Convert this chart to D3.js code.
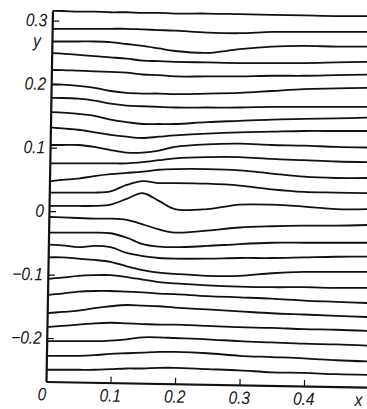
<!DOCTYPE html>
<html>
<head>
<meta charset="utf-8">
<script src="https://cdn.jsdelivr.net/npm/d3@7"></script>
<style>
  html, body { margin: 0; padding: 0; background: #fff; }
  svg { display: block; }
  .lbl { font-family: "Liberation Sans", Arial, sans-serif; font-style: italic; font-size: 18px; fill: #151515; }
</style>
</head>
<body>
<div id="chart"></div>
<script>
// streamline sample positions along x
const xs = [0, 0.025, 0.05, 0.075, 0.1, 0.125, 0.15, 0.175, 0.2, 0.25, 0.3, 0.35, 0.4, 0.45, 0.5];

// y of each streamline at xs (top to bottom)
const line01 = [0.315, 0.315, 0.314, 0.314, 0.313, 0.313, 0.312, 0.312, 0.311, 0.311, 0.310, 0.309, 0.308, 0.307, 0.307];
const line02 = [0.287, 0.287, 0.287, 0.287, 0.287, 0.287, 0.286, 0.285, 0.284, 0.281, 0.280, 0.282, 0.282, 0.282, 0.282];
const line03 = [0.267, 0.267, 0.267, 0.267, 0.266, 0.263, 0.260, 0.256, 0.252, 0.249, 0.255, 0.259, 0.260, 0.259, 0.259];
const line04 = [0.249, 0.248, 0.246, 0.244, 0.242, 0.240, 0.237, 0.236, 0.235, 0.234, 0.233, 0.233, 0.233, 0.234, 0.235];
const line05 = [0.222, 0.222, 0.221, 0.220, 0.219, 0.218, 0.215, 0.214, 0.212, 0.212, 0.212, 0.213, 0.213, 0.214, 0.215];
const line06 = [0.200, 0.199, 0.197, 0.194, 0.189, 0.186, 0.185, 0.185, 0.184, 0.185, 0.186, 0.189, 0.192, 0.193, 0.194];
const line07 = [0.178, 0.178, 0.177, 0.174, 0.169, 0.166, 0.165, 0.164, 0.163, 0.163, 0.163, 0.164, 0.164, 0.164, 0.164];
const line08 = [0.156, 0.155, 0.153, 0.150, 0.144, 0.140, 0.137, 0.137, 0.137, 0.140, 0.142, 0.144, 0.145, 0.146, 0.147];
const line09 = [0.133, 0.130, 0.128, 0.124, 0.120, 0.117, 0.115, 0.117, 0.119, 0.122, 0.124, 0.125, 0.126, 0.126, 0.126];
const line10 = [0.104, 0.104, 0.104, 0.101, 0.096, 0.092, 0.092, 0.095, 0.101, 0.105, 0.106, 0.104, 0.103, 0.101, 0.100];
const line11 = [0.075, 0.075, 0.075, 0.075, 0.075, 0.075, 0.077, 0.080, 0.083, 0.085, 0.085, 0.082, 0.080, 0.078, 0.077];
const line12 = [0.046, 0.049, 0.051, 0.055, 0.058, 0.060, 0.062, 0.065, 0.066, 0.066, 0.064, 0.059, 0.054, 0.052, 0.052];
const line13 = [0.029, 0.029, 0.029, 0.029, 0.031, 0.041, 0.047, 0.044, 0.044, 0.043, 0.040, 0.034, 0.030, 0.029, 0.028];
const line14 = [0.008, 0.008, 0.008, 0.008, 0.010, 0.019, 0.028, 0.016, 0.003, 0.003, 0.010, 0.010, 0.007, 0.003, 0.003];
const line15 = [-0.009, -0.010, -0.011, -0.012, -0.012, -0.014, -0.021, -0.029, -0.034, -0.031, -0.026, -0.024, -0.023, -0.023, -0.022];
const line16 = [-0.034, -0.034, -0.034, -0.034, -0.035, -0.042, -0.052, -0.056, -0.057, -0.055, -0.052, -0.050, -0.050, -0.050, -0.050];
const line17 = [-0.053, -0.054, -0.057, -0.055, -0.057, -0.066, -0.071, -0.074, -0.075, -0.075, -0.074, -0.074, -0.073, -0.072, -0.072];
const line18 = [-0.073, -0.073, -0.075, -0.077, -0.080, -0.087, -0.093, -0.097, -0.099, -0.102, -0.102, -0.098, -0.096, -0.096, -0.096];
const line19 = [-0.107, -0.105, -0.102, -0.101, -0.101, -0.104, -0.108, -0.112, -0.114, -0.117, -0.119, -0.120, -0.120, -0.121, -0.121];
const line20 = [-0.132, -0.130, -0.127, -0.126, -0.126, -0.127, -0.128, -0.130, -0.131, -0.134, -0.136, -0.138, -0.141, -0.143, -0.145];
const line21 = [-0.161, -0.159, -0.157, -0.153, -0.150, -0.148, -0.149, -0.150, -0.152, -0.155, -0.158, -0.161, -0.163, -0.165, -0.167];
const line22 = [-0.183, -0.181, -0.179, -0.177, -0.176, -0.177, -0.178, -0.179, -0.179, -0.181, -0.183, -0.184, -0.186, -0.187, -0.189];
const line23 = [-0.205, -0.205, -0.205, -0.205, -0.204, -0.202, -0.199, -0.199, -0.200, -0.202, -0.205, -0.207, -0.209, -0.210, -0.212];
const line24 = [-0.228, -0.228, -0.228, -0.227, -0.225, -0.224, -0.223, -0.222, -0.222, -0.224, -0.228, -0.230, -0.232, -0.235, -0.237];
const line25 = [-0.250, -0.250, -0.250, -0.250, -0.249, -0.248, -0.248, -0.247, -0.247, -0.249, -0.251, -0.254, -0.255, -0.257, -0.258];

const streamlines = [line01, line02, line03, line04, line05, line06, line07, line08, line09, line10,
  line11, line12, line13, line14, line15, line16, line17, line18, line19, line20,
  line21, line22, line23, line24, line25];

// axis ticks and labels
const xTicks = [0.1, 0.2, 0.3, 0.4];
const xTickLabels = ['0.1', '0.2', '0.3', '0.4'];
const yTicks = [0.3, 0.2, 0.1, 0, -0.1, -0.2];
const yTickLabels = ['0.3', '0.2', '0.1', '0', '\u22120.1', '\u22120.2'];

const width = 367;
const height = 409;

const x = d3.scaleLinear().domain([0, 0.5]).range([46, 368.5]);
const y = d3.scaleLinear().domain([-0.2685, 0.315]).range([381.5, 11]);

// the printed frame sits about one degree off square on the page
const skew = `rotate(1,${x(0)},${y.range()[0]})`;

const svg = d3.select('#chart').append('svg')
  .attr('width', width)
  .attr('height', height);

svg.append('rect').attr('width', width).attr('height', height).attr('fill', '#fff');

svg.append('clipPath').attr('id', 'plot-clip')
  .append('rect')
  .attr('transform', skew)
  .attr('x', x(0)).attr('y', 0)
  .attr('width', 340).attr('height', y.range()[0]);

// streamlines
const line = d3.line()
  .x((d, i) => x(xs[i]))
  .y(d => y(d))
  .curve(d3.curveCatmullRom.alpha(0.5));

svg.append('g')
  .attr('clip-path', 'url(#plot-clip)')
  .selectAll('path')
  .data(streamlines)
  .join('path')
  .attr('d', line)
  .attr('fill', 'none')
  .attr('stroke', '#111')
  .attr('stroke-width', 1.8);

const frame = svg.append('g').attr('transform', skew);

// left axis, ticks pointing inward
const yAxis = frame.append('g')
  .attr('transform', `translate(${x(0)},0)`)
  .call(d3.axisLeft(y).tickValues(yTicks).tickSize(-7).tickSizeOuter(0).tickFormat(''));
yAxis.select('.domain').attr('stroke', '#111').attr('stroke-width', 2.2);
yAxis.selectAll('.tick line').attr('stroke', '#111').attr('stroke-width', 1.2);

// bottom axis, ticks pointing inward
const xAxis = frame.append('g')
  .attr('transform', `translate(0,${y.range()[0]})`)
  .call(d3.axisBottom(x).tickValues(xTicks).tickSize(-6).tickSizeOuter(0).tickFormat(''));
xAxis.select('.domain').attr('stroke', '#111').attr('stroke-width', 2.2);
xAxis.selectAll('.tick line').attr('stroke', '#111').attr('stroke-width', 1.2);

// y tick labels
frame.append('g')
  .selectAll('text')
  .data(yTicks)
  .join('text')
  .attr('class', 'lbl')
  .attr('transform', d => `translate(${x(0) - 5},${y(d) + 6}) scale(0.86,1)`)
  .attr('text-anchor', 'end')
  .text((d, i) => yTickLabels[i]);

// x tick labels
frame.append('g')
  .selectAll('text')
  .data(xTicks)
  .join('text')
  .attr('class', 'lbl')
  .attr('transform', d => `translate(${x(d)},${y.range()[0] + 19}) scale(0.86,1)`)
  .attr('text-anchor', 'middle')
  .text((d, i) => xTickLabels[i]);

frame.append('text').attr('class', 'lbl')
  .attr('transform', `translate(${x(0) - 4},${y.range()[0] + 19}) scale(0.86,1)`)
  .attr('text-anchor', 'middle').text('0');

// axis names
frame.append('text').attr('class', 'lbl')
  .attr('transform', `translate(31,47) scale(0.86,1)`)
  .attr('text-anchor', 'middle').text('y');
frame.append('text').attr('class', 'lbl')
  .attr('transform', `translate(${x(0.485)},${y.range()[0] + 19}) scale(0.86,1)`)
  .attr('text-anchor', 'middle').text('x');
</script>
</body>
</html>
